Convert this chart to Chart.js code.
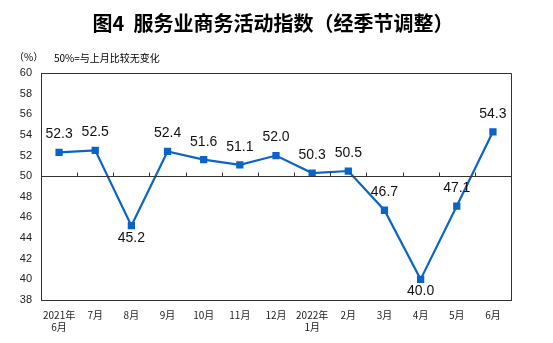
<!DOCTYPE html>
<html lang="zh">
<head>
  <meta charset="UTF-8" />
  <title>服务业商务活动指数</title>
  <script src="https://cdn.jsdelivr.net/npm/chart.js"></script>
  <style>
    html, body { margin: 0; padding: 0; background: #fff; }
    .wrap { width: 553px; height: 343px; position: relative; }
  </style>
</head>
<body>
  <div class="wrap">
    <canvas id="pmiChart"></canvas>
  </div>

  <script>
    // 月份（两行标签）
    const months = [
      ["2021年", "6月"], "7月", "8月", "9月", "10月", "11月", "12月",
      ["2022年", "1月"], "2月", "3月", "4月", "5月", "6月"
    ];
    // 服务业商务活动指数（%）
    const indexValues = [52.3, 52.5, 45.2, 52.4, 51.6, 51.1, 52.0, 50.3, 50.5, 46.7, 40.0, 47.1, 54.3];
    // 数值标签在点的上方或下方
    const labelSide = ["up", "up", "down", "up", "up", "up", "up", "up", "up", "up", "down", "up", "up"];
    const yMin = 38, yMax = 60, yStep = 2, baseLine = 50;

    const titleText = "图4  服务业商务活动指数（经季节调整）";
    const unitText = "（%）";
    const noteText = "50%=与上月比较无变化";

    const lineBlue = "#0a64c8";
    const axisColor = "#333333";

    // 边框、50%基准线、数值标签和标题
    const decorations = {
      id: "decorations",
      afterDatasetsDraw(chart) {
        const { ctx, chartArea: a, scales: { x, y } } = chart;
        ctx.save();

        // top and right border
        ctx.strokeStyle = axisColor;
        ctx.lineWidth = 1;
        ctx.beginPath();
        ctx.moveTo(a.left, a.top + 0.5);
        ctx.lineTo(a.right + 0.5, a.top + 0.5);
        ctx.lineTo(a.right + 0.5, a.bottom);
        ctx.stroke();

        // 50 line with small ticks between months
        const y50 = Math.round(y.getPixelForValue(baseLine)) + 0.5;
        ctx.beginPath();
        ctx.moveTo(a.left, y50);
        ctx.lineTo(a.right, y50);
        for (let i = 1; i < months.length; i++) {
          const bx = Math.round((x.getPixelForValue(i - 1) + x.getPixelForValue(i)) / 2) + 0.5;
          ctx.moveTo(bx, y50);
          ctx.lineTo(bx, y50 - 4);
        }
        ctx.stroke();

        // value labels
        const meta = chart.getDatasetMeta(0);
        ctx.fillStyle = "#111";
        ctx.font = "14px 'Liberation Sans', Arial, sans-serif";
        ctx.textAlign = "center";
        ctx.textBaseline = "middle";
        meta.data.forEach((pt, i) => {
          const dy = labelSide[i] === "down" ? 12 : -18;
          ctx.fillText(indexValues[i].toFixed(1), pt.x, pt.y + dy);
        });

        // title and notes
        ctx.font = "bold 20px 'Noto Sans CJK SC', sans-serif";
        ctx.fillStyle = "#000";
        ctx.fillText(titleText, 273, 23);
        ctx.font = "10px 'Noto Sans CJK SC', sans-serif";
        ctx.textAlign = "left";
        ctx.fillText(unitText, 14, 57);
        ctx.fillText(noteText, 54, 58);

        ctx.restore();
      }
    };

    new Chart(document.getElementById("pmiChart"), {
      type: "line",
      data: {
        labels: months,
        datasets: [{
          data: indexValues,
          borderColor: lineBlue,
          backgroundColor: lineBlue,
          borderWidth: 2.2,
          pointStyle: "rect",
          pointRadius: 3.6,
          pointHoverRadius: 3.6,
          tension: 0
        }]
      },
      options: {
        responsive: true,
        maintainAspectRatio: false,
        animation: false,
        layout: { padding: { top: 73, right: 42, left: 0, bottom: 0 } },
        plugins: {
          legend: { display: false },
          tooltip: { enabled: false }
        },
        scales: {
          x: {
            offset: true,
            afterFit: s => { s.height = 43; },
            grid: { display: false, drawTicks: false },
            border: { display: true, color: axisColor, width: 1 },
            ticks: {
              autoSkip: false,
              maxRotation: 0,
              padding: 9,
              color: "#222",
              font: { family: "'Noto Sans CJK SC', sans-serif", size: 10 }
            }
          },
          y: {
            min: yMin,
            max: yMax,
            afterFit: s => { s.width = 41; },
            grid: { display: false, drawTicks: false },
            border: { display: true, color: axisColor, width: 1 },
            ticks: {
              stepSize: yStep,
              padding: 9,
              color: "#222",
              font: { family: "'Liberation Sans', Arial, sans-serif", size: 11 }
            }
          }
        }
      },
      plugins: [decorations]
    });
  </script>
</body>
</html>
